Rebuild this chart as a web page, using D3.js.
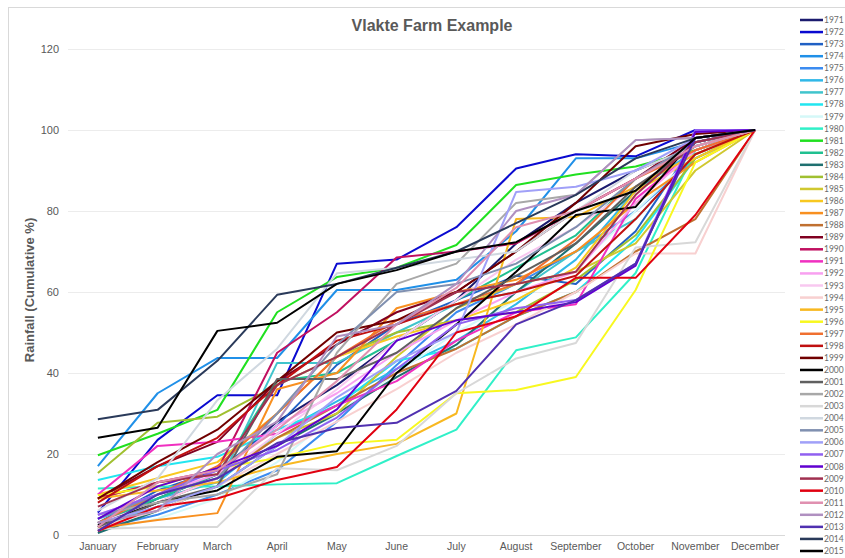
<!DOCTYPE html>
<html>
<head>
<meta charset="utf-8">
<script src="https://cdn.jsdelivr.net/npm/d3@7"></script>
<style>
  html, body { margin: 0; padding: 0; background: #fff; }
  svg { display: block; font-family: Lato, "Open Sans", "Liberation Sans", Arial, sans-serif; }
</style>
</head>
<body>
<svg id="chart" width="845" height="558"></svg>
<script>
// Months on the category axis
const months = ["January", "February", "March", "April", "May", "June",
  "July", "August", "September", "October", "November", "December"];

// Y-axis ticks (cumulative rainfall, %)
const yTicks = [0, 20, 40, 60, 80, 100, 120];

// Years shown, in legend order
const years = [1971, 1972, 1973, 1974, 1975, 1976, 1977, 1978, 1979, 1980,
  1981, 1982, 1983, 1984, 1985, 1986, 1987, 1988, 1989, 1990,
  1991, 1992, 1993, 1994, 1995, 1996, 1997, 1998, 1999, 2000,
  2001, 2002, 2003, 2004, 2005, 2006, 2007, 2008, 2009, 2010,
  2011, 2012, 2013, 2014, 2015];

// Line colour per year
const yearColors = ["#1b1b6e", "#0a0ad0", "#2060c4", "#2090e8", "#3c8cf0", "#30b8e8", "#40c4cc", "#22e6f0", "#d4f8f8", "#30f0c8",
  "#20e020", "#20c090", "#1f7070", "#a0c030", "#d0c830", "#f8c820", "#f89020", "#c07030", "#800020", "#c01060",
  "#f030c0", "#f8a0f0", "#f8c8f0", "#f8d0d0", "#f8b820", "#f8f820", "#f07030", "#c01010", "#700000", "#000000",
  "#606060", "#a8a8a8", "#d8d8d8", "#d0d8e0", "#8090b0", "#a0a0f8", "#9060f0", "#6000d0", "#a03050", "#e00010",
  "#e090b0", "#b090c0", "#5030b0", "#2a3a5a", "#000000"];

// Cumulative rainfall (%) at the end of each month, one array per year
const r1971 = [2, 9, 15, 28, 37, 48, 58, 72, 82, 90, 96, 100];
const r1972 = [5.5, 23.5, 34.5, 34.5, 67, 68, 76, 90.5, 94, 93.5, 100, 100];
const r1973 = [3, 11, 16, 27, 42, 52, 58, 64, 62, 75, 97, 100];
const r1974 = [17, 35, 43.7, 43.7, 60.5, 60.5, 63, 75, 93, 93, 97, 100];
const r1975 = [1.5, 5, 10, 16, 28, 42, 55, 62, 70, 80, 93, 100];
const r1976 = [4, 9, 13, 25, 33, 41, 48, 57, 68, 85, 95, 100];
const r1977 = [2, 7, 12, 42.5, 42.5, 50, 57, 60, 70, 78, 94, 100];
const r1978 = [13.6, 17, 19.3, 26, 32, 43, 46, 54, 60, 73, 93, 100];
const r1979 = [1, 4, 9, 18, 30, 40, 50, 58, 66, 80, 94, 100];
const r1980 = [11.5, 12, 12, 12.5, 12.8, 19.5, 26, 45.6, 48.8, 64.7, 95, 100];
const r1981 = [19.7, 25, 30.9, 55, 63.7, 66, 71.6, 86.4, 89, 91, 95, 100];
const r1982 = [3, 9, 15, 38, 40, 48, 58, 66, 74, 88, 96, 100];
const r1983 = [0.5, 6, 12, 22, 30, 39, 47, 60, 72, 85, 97, 100];
const r1984 = [15.3, 27.7, 29.2, 37, 44, 50, 53, 55, 63, 74, 93, 100];
const r1985 = [9, 13, 15, 24, 30, 44, 56, 62, 65, 72, 90, 100];
const r1986 = [10, 14, 18, 30, 44, 49, 53, 58, 66, 85, 93, 100];
const r1987 = [1.7, 3.7, 5.4, 36, 40, 56, 60, 63, 70, 82, 92, 100];
const r1988 = [2, 8, 14, 24, 32, 40, 46, 54, 60, 70, 78, 100];
const r1989 = [9, 17, 23, 38, 47, 55, 60, 70, 80, 88, 98, 100];
const r1990 = [9, 13, 16, 45, 55, 68.5, 70, 72, 80, 88, 97, 100];
const r1991 = [10, 22, 23, 25, 32, 38, 48, 55, 57, 83, 95, 100];
const r1992 = [5, 10, 15, 27, 35, 45, 53, 60, 65, 82, 95, 100];
const r1993 = [3, 8, 14, 25, 36, 48, 58, 68, 76, 86, 96, 100];
const r1994 = [2, 6, 12, 20, 28, 36, 45, 52, 60, 69.5, 69.5, 100];
const r1995 = [9, 11, 13, 17, 20, 22.5, 30, 78, 78.5, 86, 94, 100];
const r1996 = [9.8, 12, 16.5, 19, 22.5, 23.5, 35, 35.8, 39, 60.5, 92, 100];
const r1997 = [3, 10, 17, 30, 44, 53, 57, 62, 73, 88, 95, 100];
const r1998 = [8, 17, 24, 37, 48, 52, 57, 60, 64, 78, 94, 100];
const r1999 = [9, 18, 26, 38, 50, 53, 60, 70, 82, 96, 99, 100];
const r2000 = [2.5, 8, 11, 19.3, 20.7, 40, 52, 65, 79, 81, 98, 100];
const r2001 = [2, 8, 12, 38.5, 38.5, 45, 56, 64, 72, 86, 96, 100];
const r2002 = [5, 8, 10, 15, 45, 62, 67, 82, 84, 97.5, 98, 100];
const r2003 = [1.5, 2, 2, 16.5, 16, 22, 35, 43.6, 47.4, 71, 72.3, 100];
const r2004 = [6, 14, 33.3, 46, 64.6, 66, 68, 70, 80, 90, 96, 100];
const r2005 = [4, 10, 14, 30, 47, 60, 62, 67, 76, 88, 97, 100];
const r2006 = [3, 7, 12, 22, 34, 43, 50, 84.7, 86, 90, 98, 100];
const r2007 = [5, 10, 16, 21, 29, 41, 52, 56, 58, 67, 100, 100];
const r2008 = [4, 12, 16.5, 22, 31, 48, 53, 55, 57.5, 66.5, 99.5, 100];
const r2009 = [7, 13, 15, 37, 44, 52, 60, 62, 65, 84, 97, 100];
const r2010 = [1, 7, 9, 13.6, 16.8, 31, 50, 54, 63.5, 63.5, 79, 100];
const r2011 = [2, 13, 16, 26, 38, 52, 61, 76, 80, 88, 96, 100];
const r2012 = [3, 6, 20, 28, 49, 52, 62, 80, 84, 97.5, 98, 100];
const r2013 = [1, 10, 14, 22.7, 26.4, 27.7, 35.6, 52, 58, 67, 98, 100];
const r2014 = [28.6, 30.9, 43, 59.3, 62, 66, 70, 77, 84, 93, 98, 100];
const r2015 = [24, 26.5, 50.4, 52.4, 62, 65.4, 70, 72.3, 80, 85, 98, 100];

const seriesValues = [r1971, r1972, r1973, r1974, r1975, r1976, r1977, r1978, r1979, r1980,
  r1981, r1982, r1983, r1984, r1985, r1986, r1987, r1988, r1989, r1990,
  r1991, r1992, r1993, r1994, r1995, r1996, r1997, r1998, r1999, r2000,
  r2001, r2002, r2003, r2004, r2005, r2006, r2007, r2008, r2009, r2010,
  r2011, r2012, r2013, r2014, r2015];

const series = years.map((y, i) => ({ year: y, color: yearColors[i], values: seriesValues[i] }));

const svg = d3.select("#chart");
const textColor = "#595959";
const plot = { left: 68, right: 785, top: 49, bottom: 535 };

// Chart frame
svg.append("rect")
  .attr("x", 8.5).attr("y", 7.5).attr("width", 900).attr("height", 600)
  .attr("fill", "none").attr("stroke", "#d9d9d9");

const x = d3.scaleBand().domain(months).range([plot.left, plot.right]);
const y = d3.scaleLinear().domain([0, 120]).range([plot.bottom, plot.top]);

// Horizontal gridlines
svg.append("g")
  .selectAll("line")
  .data(yTicks)
  .join("line")
  .attr("x1", plot.left).attr("x2", plot.right)
  .attr("y1", d => y(d) + 0.5).attr("y2", d => y(d) + 0.5)
  .attr("stroke", d => d === 0 ? "#d9d9d9" : "#ececec")
  .attr("stroke-width", 1);

// Y axis labels
const yAxis = svg.append("g")
  .attr("transform", `translate(${plot.left - 9},0)`)
  .call(d3.axisLeft(y).tickValues(yTicks).tickSize(0).tickPadding(0));
yAxis.select(".domain").remove();
yAxis.selectAll("text")
  .attr("fill", textColor).attr("font-size", 11);

// X axis labels
const xAxis = svg.append("g")
  .attr("transform", `translate(0,${plot.bottom + 8})`)
  .call(d3.axisBottom(x).tickSize(0).tickPadding(0));
xAxis.select(".domain").remove();
xAxis.selectAll("text")
  .attr("fill", textColor).attr("font-size", 10.5);

// Lines, one per year
const line = d3.line()
  .x((d, i) => x(months[i]) + x.bandwidth() / 2)
  .y(d => y(d));

svg.append("g")
  .selectAll("path")
  .data(series)
  .join("path")
  .attr("d", d => line(d.values))
  .attr("fill", "none")
  .attr("stroke", d => d.color)
  .attr("stroke-width", 2)
  .attr("stroke-linejoin", "round");

// Title
svg.append("text")
  .attr("x", 432).attr("y", 31)
  .attr("text-anchor", "middle")
  .attr("font-family", "'Liberation Sans', Arial, sans-serif")
  .attr("font-size", 16).attr("font-weight", "bold")
  .attr("fill", textColor)
  .text("Vlakte Farm Example");

// Y axis title
svg.append("text")
  .attr("transform", "translate(34,290) rotate(-90)")
  .attr("text-anchor", "middle")
  .attr("font-family", "'Liberation Sans', Arial, sans-serif")
  .attr("font-size", 13).attr("font-weight", "bold")
  .attr("fill", textColor)
  .text("Rainfall (Cumulative %)");

// Legend
const legend = svg.append("g");
const legendY = d3.scalePoint().domain(years).range([20, 551]);
const items = legend.selectAll("g")
  .data(series)
  .join("g")
  .attr("transform", d => `translate(800,${legendY(d.year)})`);
items.append("line")
  .attr("x1", 0).attr("x2", 23).attr("y1", 0).attr("y2", 0)
  .attr("stroke", d => d.color).attr("stroke-width", 2.5);
items.append("text")
  .attr("x", 24).attr("y", 3)
  .attr("font-size", 8.5).attr("fill", "#6b6b6b")
  .text(d => d.year);
</script>
</body>
</html>
